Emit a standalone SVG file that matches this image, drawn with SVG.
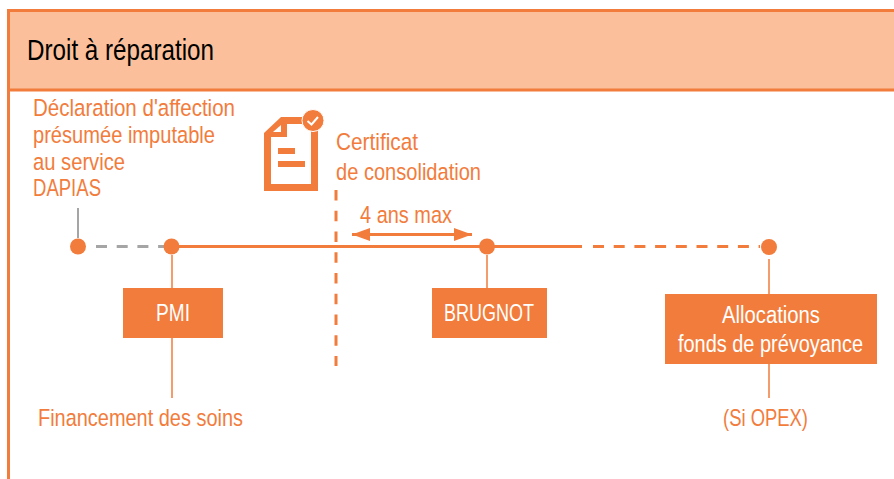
<svg xmlns="http://www.w3.org/2000/svg" width="894" height="479" viewBox="0 0 894 479">
<style>
text{font-family:"Liberation Sans",Arial,sans-serif;font-size:24.500px;fill:#F27C3C}
.w{fill:#fff;font-size:23px}
.k{fill:#000;font-size:29px}
.thin{stroke:#F27C3C;stroke-width:1.500;fill:none}
.main{stroke:#F27C3C;stroke-width:3;fill:none}
.dash{stroke-dasharray:11 9.700}
.gray{stroke:#A5A5A5}
.dot{fill:#F27C3C}
.box{fill:#F27C3C}
</style>
<defs>
<marker id="ah" viewBox="0 0 18 13" refX="18" refY="6.500" markerUnits="userSpaceOnUse" markerWidth="18" markerHeight="13" orient="auto-start-reverse"><path d="M0 0L18 6.500L0 13Z" fill="#F27C3C"/></marker>
</defs>
<g id="frame">
<rect x="8.500" y="10" width="890" height="80" fill="#FBC09B"/>
<path d="M8.500 479V10.500H894M8.500 90H894" fill="none" stroke="#F27C3C" stroke-width="3"/>
<text class="k" x="27" y="60" textLength="187" lengthAdjust="spacingAndGlyphs">Droit à réparation</text>
</g>
<g id="connectors">
<path class="main" d="M171 246.500H582"/>
<path class="main dash gray" d="M96 246.500H165"/>
<path class="main dash" d="M593 246.500H760"/>
<path class="main" d="M336 190V366" style="stroke-dasharray:10.500 10.250"/>
<path class="main" d="M352 234.500H472" marker-start="url(#ah)" marker-end="url(#ah)"/>
<path class="thin" d="M172 255V288M172 338V398M487 255V288M769 259V294M769 364V398"/>
<path class="thin gray" d="M78 208V238" style="stroke-width:2"/>
</g>
<g id="declaration">
<circle class="dot" cx="78" cy="246.500" r="8"/>
<text x="33" y="115.500" textLength="202" lengthAdjust="spacingAndGlyphs">Déclaration d'affection</text>
<text x="33" y="143" textLength="182" lengthAdjust="spacingAndGlyphs">présumée imputable</text>
<text x="33" y="170" textLength="92" lengthAdjust="spacingAndGlyphs">au service</text>
<text x="33" y="195.500" textLength="68" lengthAdjust="spacingAndGlyphs">DAPIAS</text>
</g>
<g id="certificat">
<path d="M264 133L281 117H318V191H264Z M271 137V184H311V124H287V137Z" fill="#F27C3C" fill-rule="evenodd"/>
<path d="M273 132L281 125V132Z" fill="#fff"/>
<path d="M278 148H295V154H278ZM278 161H305V167H278Z" fill="#F27C3C"/>
<circle cx="313" cy="120.500" r="11" fill="#F27C3C" stroke="#fff" stroke-width="1"/>
<path d="M307.500 121L311.500 124.500L318 117" fill="none" stroke="#fff" stroke-width="2"/>
<text x="336" y="150" textLength="82" lengthAdjust="spacingAndGlyphs">Certificat</text>
<text x="336" y="180" textLength="145" lengthAdjust="spacingAndGlyphs">de consolidation</text>
</g>
<g id="duree">
<text x="360" y="223" textLength="92" lengthAdjust="spacingAndGlyphs">4 ans max</text>
</g>
<g id="pmi">
<circle class="dot" cx="171.500" cy="246.500" r="8"/>
<rect class="box" x="123" y="288" width="100" height="50"/>
<text class="w" x="156" y="321" textLength="34" lengthAdjust="spacingAndGlyphs">PMI</text>
<text x="38" y="426" textLength="205" lengthAdjust="spacingAndGlyphs">Financement des soins</text>
</g>
<g id="brugnot">
<circle class="dot" cx="487" cy="246.500" r="8"/>
<rect class="box" x="432" y="288" width="115" height="50"/>
<text class="w" x="444" y="321" textLength="90" lengthAdjust="spacingAndGlyphs">BRUGNOT</text>
</g>
<g id="allocations">
<circle class="dot" cx="769" cy="247" r="8"/>
<rect class="box" x="665" y="294" width="212" height="70"/>
<text class="w" x="722" y="323" textLength="98" lengthAdjust="spacingAndGlyphs">Allocations</text>
<text class="w" x="678" y="352" textLength="185" lengthAdjust="spacingAndGlyphs">fonds de prévoyance</text>
<text x="723" y="426" textLength="85" lengthAdjust="spacingAndGlyphs">(Si OPEX)</text>
</g>
</svg>
